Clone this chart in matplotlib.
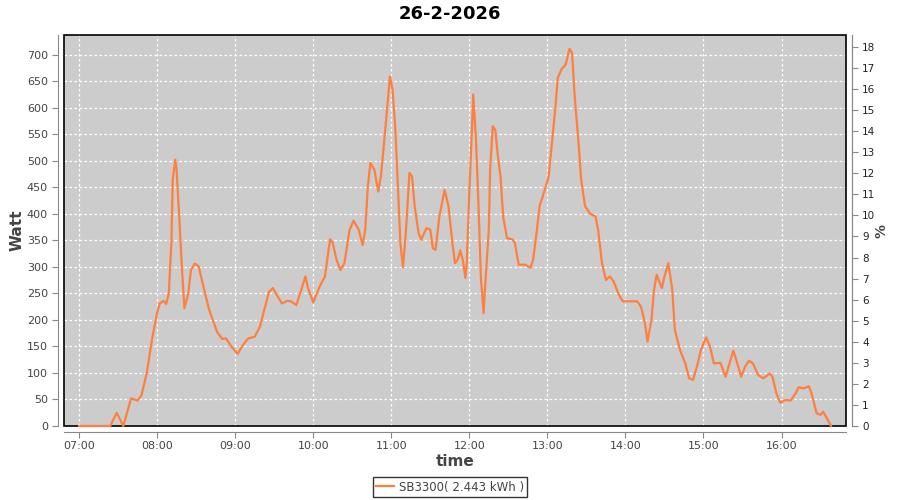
import numpy as np
import matplotlib
matplotlib.use('Agg')
import matplotlib.pyplot as plt
from matplotlib.patches import Rectangle

# readings of the SB3300 inverter, time of day -> watt
times = ['07:00', '07:20', '07:24', '07:29', '07:34', '07:40', '07:45', '07:48', '07:52', '07:56',
         '08:00', '08:02', '08:05', '08:07', '08:09', '08:11', '08:12', '08:14', '08:15', '08:17',
         '08:19', '08:21', '08:24', '08:26', '08:29', '08:32', '08:35', '08:40', '08:46', '08:50',
         '08:53', '08:57', '09:02', '09:06', '09:10', '09:15', '09:19', '09:23', '09:26', '09:29',
         '09:32', '09:36', '09:40', '09:43', '09:47', '09:50', '09:54', '09:56', '10:00', '10:05',
         '10:09', '10:13', '10:15', '10:18', '10:21', '10:24', '10:28', '10:31', '10:35', '10:38',
         '10:40', '10:42', '10:44', '10:47', '10:50', '10:52', '10:54', '10:56', '10:59', '11:01',
         '11:03', '11:05', '11:07', '11:09', '11:11', '11:14', '11:16', '11:18', '11:21', '11:23',
         '11:27', '11:30', '11:32', '11:34', '11:37', '11:41', '11:44', '11:47', '11:49', '11:51',
         '11:53', '11:55', '11:57', '11:58', '12:00', '12:02', '12:03', '12:05', '12:07', '12:09',
         '12:11', '12:12', '12:15', '12:16', '12:18', '12:20', '12:22', '12:24', '12:26', '12:29',
         '12:33', '12:35', '12:38', '12:43', '12:47', '12:49', '12:52', '12:54', '12:58', '13:01',
         '13:03', '13:06', '13:08', '13:11', '13:14', '13:17', '13:19', '13:21', '13:24', '13:26',
         '13:29', '13:33', '13:37', '13:39', '13:42', '13:45', '13:48', '13:51', '13:55', '13:58',
         '14:04', '14:09', '14:12', '14:15', '14:17', '14:20', '14:22', '14:24', '14:28', '14:30',
         '14:33', '14:36', '14:38', '14:42', '14:46', '14:49', '14:52', '14:55', '14:58', '15:02',
         '15:05', '15:08', '15:13', '15:17', '15:20', '15:23', '15:26', '15:29', '15:32', '15:35',
         '15:38', '15:42', '15:46', '15:51', '15:53', '15:56', '15:59', '16:03', '16:07', '16:11',
         '16:13', '16:17', '16:21', '16:23', '16:27', '16:30', '16:32', '16:35', '16:38']
watt = [0, 0, 0, 25, 0, 52, 48, 58, 99, 162,
        213, 231, 236, 230, 250, 345, 464, 502, 483, 395,
        301, 222, 250, 294, 306, 301, 269, 219, 178, 164,
        165, 150, 136, 153, 165, 168, 187, 225, 253, 260,
        247, 231, 236, 235, 228, 250, 282, 260, 233, 263,
        282, 352, 345, 313, 294, 307, 370, 387, 370, 341,
        370, 452, 496, 483, 442, 470, 521, 577, 659, 634,
        565, 458, 345, 299, 357, 477, 470, 414, 364, 351,
        373, 370, 335, 332, 395, 445, 414, 345, 307, 313,
        331, 313, 279, 307, 439, 558, 625, 546, 420, 275,
        213, 257, 370, 483, 565, 558, 508, 470, 395, 354,
        352, 345, 304, 304, 298, 313, 370, 414, 445, 470,
        521, 596, 656, 673, 681, 711, 703, 621, 533, 464,
        414, 400, 395, 370, 307, 275, 282, 272, 247, 235,
        235, 235, 225, 194, 159, 200, 257, 285, 260, 282,
        307, 257, 181, 143, 118, 90, 87, 112, 143, 167,
        150, 118, 119, 93, 118, 142, 118, 93, 112, 123,
        118, 96, 90, 99, 93, 62, 44, 49, 48, 62,
        73, 71, 75, 62, 24, 21, 27, 14, 0]

hour_ticks = ['07:00', '08:00', '09:00', '10:00', '11:00', '12:00', '13:00', '14:00', '15:00', '16:00']
watt_ticks = np.arange(0, 701, 50)
pct_ticks = np.arange(0, 19, 1)
title = '26-2-2026'
series_label = 'SB3300( 2.443 kWh )'


def to_hours(s):
    h, m = s.split(':')
    return int(h) + int(m) / 60.0


x = np.array([to_hours(t) for t in times])
tick_x = [to_hours(t) for t in hour_ticks]

plt.rcParams['font.family'] = ['DejaVu Sans']
txt = '#444444'
axcol = '#888888'

fig = plt.figure(figsize=(9, 5), dpi=100)
ax = fig.add_axes([64 / 900, 1 - 426 / 500, (846 - 64) / 900, (426 - 35) / 500])
ax.set_facecolor('#cccccc')

line, = ax.plot(x, watt, color='#ff7f3f', lw=1.6, label=series_label, zorder=6, clip_on=False)

span = x[-1] - x[0]
ax.set_xlim(x[0] - 0.02 * span, x[-1] + 0.02 * span)
ax.set_ylim(0, 737)
ax.set_xticks(tick_x)
ax.set_xticklabels(hour_ticks)
ax.set_yticks(watt_ticks)
ax.grid(True, color='white', ls=(0, (2, 2)), lw=0.9)
ax.set_axisbelow(True)

for side in ['left', 'bottom', 'right']:
    ax.spines[side].set_position(('outward', 4))
    ax.spines[side].set_color(axcol)
ax.spines['top'].set_visible(False)
ax.add_patch(Rectangle((0, 0), 1, 1, transform=ax.transAxes, fill=False,
                       ec='black', lw=1.2, zorder=5, clip_on=False))
ax.tick_params(colors=txt, labelsize=8, length=4, color=axcol)
ax.tick_params(axis='x', pad=3)
ax.set_ylabel('Watt', fontsize=11, fontweight='bold', color=txt)
ax.yaxis.set_label_coords(-0.05, 0.5)
ax.set_xlabel('time', fontsize=11, fontweight='bold', color=txt)
ax.xaxis.set_label_coords(0.5, -0.072)

ax2 = ax.twinx()
ax2.set_ylim(0, 737 / 39.7)
ax2.set_yticks(pct_ticks)
for side in ['left', 'bottom', 'right', 'top']:
    ax2.spines[side].set_visible(False)
ax2.spines['right'].set_visible(True)
ax2.spines['right'].set_position(('outward', 4))
ax2.spines['right'].set_color(axcol)
ax2.tick_params(colors='#222222', labelsize=7.5, length=4, color=axcol)
ax2.set_ylabel('%', fontsize=10, fontweight='bold', color=txt)
ax2.yaxis.set_label_coords(1.036, 0.5)

fig.text(0.5, 0.972, title, ha='center', va='center', fontsize=13, fontweight='bold')

leg = fig.legend(handles=[line], loc='center', bbox_to_anchor=(0.5, 0.026), fontsize=8.5,
                 frameon=True, fancybox=False, handlelength=1.5, borderpad=0.3,
                 handletextpad=0.4, labelcolor=txt)
leg.get_frame().set_edgecolor('black')
leg.get_frame().set_linewidth(1)

fig.savefig('out.png', dpi=100)
